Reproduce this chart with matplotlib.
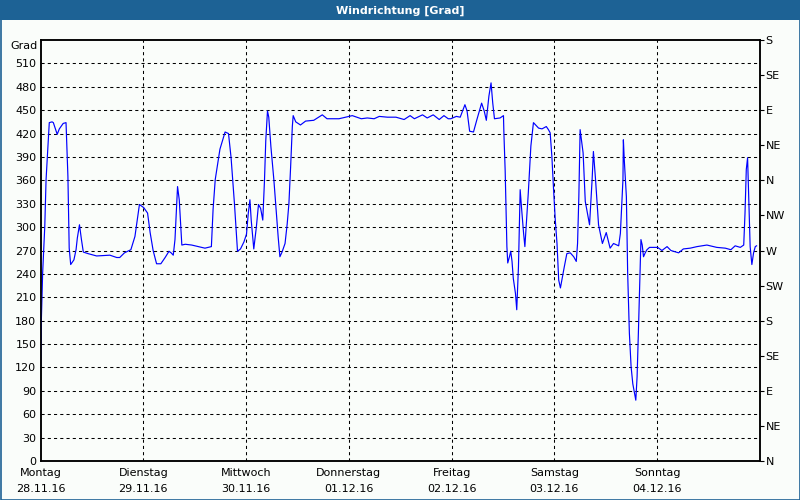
import matplotlib
matplotlib.use("Agg")
import matplotlib.pyplot as plt
from matplotlib.patches import Rectangle

# hours since Monday 28.11.16 00:00 and wind direction in degrees
hours = [
    0, 0.2, 0.5, 1.0, 1.3, 1.6, 2.05, 2.7, 3.0, 3.9, 4.4, 5.3, 5.96, 6.4, 6.7,
    7.05, 7.8, 8.3, 8.6, 9.1, 9.56, 10.0, 11.1, 13.1, 16.2, 17.8, 18.5, 19.6,
    21.1, 22.05, 22.7, 23.1, 24.1, 25.0, 25.6, 26.3, 27.1, 28.1, 29.1, 30.0,
    30.5, 31.0, 31.4, 32.0, 32.4, 33.0, 33.8, 35.3, 38.4, 39.9, 40.3, 40.8,
    41.9, 43.1, 43.9, 44.5, 45.3, 46.0, 46.7, 47.5, 48.1, 48.5, 48.9, 49.2,
    49.8, 50.4, 50.9, 51.4, 51.9, 52.3, 52.6, 53.0, 53.3, 53.8, 54.5, 55.1,
    55.5, 55.9, 56.4, 57.1, 57.6, 58.0, 58.4, 58.8, 59.0, 59.6, 60.7, 61.9,
    63.8, 65.8, 66.9, 69.7, 71.2, 72.8, 74.9, 76.3, 77.9, 79.1, 81.0, 83.0,
    84.9, 86.3, 87.3, 89.2, 90.3, 91.7, 93.1, 94.2, 95.2, 95.8, 97.1, 98.0,
    99.1, 99.6, 100.2, 101.1, 101.9, 103.0, 103.6, 104.1, 104.7, 105.2, 105.6,
    106.0, 107.3, 108.1, 108.2, 108.5, 108.7, 108.9, 109.1, 109.5, 109.8,
    110.1, 110.4, 110.9, 111.2, 111.6, 112.0, 112.3, 112.8, 113.1, 113.4,
    113.9, 114.5, 115.1, 116.3, 117.1, 118.1, 118.6, 119.0, 119.4, 119.8,
    120.2, 120.6, 121.0, 121.4, 121.8, 122.3, 122.9, 123.7, 124.5, 125.1,
    125.4, 125.7, 126.0, 126.4, 126.7, 127.2, 128.2, 128.8, 129.1, 129.6,
    130.3, 131.2, 132.1, 133.0, 133.8, 135.0, 135.4, 135.7, 136.0, 136.1,
    136.3, 136.8, 137.1, 137.5, 137.9, 138.3, 138.7, 139.0, 139.3, 139.6,
    140.0, 140.2, 140.5, 140.8, 141.2, 141.6, 142.2, 144.1, 145.1, 146.3,
    147.2, 149.0, 150.1, 151.7, 153.3, 155.6, 157.9, 159.9, 161.2, 162.2,
    163.4, 164.2, 164.5, 164.8, 165.1, 165.4, 165.7, 166.1, 166.5, 166.9, 167.2,
]
direction = [
    122, 181, 241, 301, 361, 391, 434, 435, 434, 419, 426, 433, 434, 365, 273,
    252, 258, 271, 286, 303, 284, 268, 266, 263, 264, 261, 261, 267,
    271, 288, 314, 329, 325, 318, 293, 270, 253, 253, 261, 269,
    267, 264, 284, 352, 335, 277, 278, 277, 273, 275, 323, 361,
    400, 422, 420, 389, 329, 269, 272, 281, 291, 317, 335, 309,
    272, 300, 329, 324, 309, 360, 411, 449, 441, 403, 360, 317,
    287, 262, 268, 279, 304, 330, 377, 429, 443, 435, 431, 436,
    437, 444, 439, 439, 441, 443, 439, 440, 439, 442, 441, 441,
    438, 443, 439, 444, 440, 444, 438, 443, 439, 439, 442, 441,
    457, 449, 423, 422, 438, 459, 449, 437, 468, 485, 459,
    439, 440, 443, 421, 372, 322, 275, 254, 262, 269,
    256, 234, 215, 194, 249, 348, 326, 292, 275, 301,
    344, 404, 434, 427, 426, 429, 425, 421, 391, 348,
    309, 279, 232, 222, 234, 249, 266, 267, 262, 256,
    279, 339, 425, 408, 395, 333, 303, 361, 397, 361,
    303, 279, 293, 273, 279, 276, 292, 327, 361, 412,
    387, 339, 241, 164, 121, 99, 87, 78, 108, 164,
    245, 284, 277, 262, 267, 271, 274, 274, 270, 275,
    270, 267, 272, 273, 275, 277, 274, 273, 271, 276,
    274, 277, 318, 374, 389, 331, 275, 252, 267, 275, 276,
]

day_names = ["Montag", "Dienstag", "Mittwoch", "Donnerstag", "Freitag", "Samstag", "Sonntag"]
dates = ["28.11.16", "29.11.16", "30.11.16", "01.12.16", "02.12.16", "03.12.16", "04.12.16"]
left_ticks = list(range(0, 511, 30))
compass = ["N", "NE", "E", "SE", "S", "SW", "W", "NW", "N", "NE", "E", "SE", "S"]

bar_color = "#1d6295"
plt.rcParams["font.family"] = "DejaVu Sans"
plt.rcParams["font.size"] = 8

fig = plt.figure(figsize=(8, 5), dpi=100, facecolor="#fafdfa")
W, H = 800, 500

# title bar and frame
fig.patches.append(Rectangle((0, 1 - 20 / H), 1, 20 / H, transform=fig.transFigure,
                             facecolor=bar_color, edgecolor="none", zorder=0))
fig.patches.append(Rectangle((0.5 / W, 0.5 / H), 1 - 1 / W, 1 - 1 / H, transform=fig.transFigure,
                             facecolor="none", edgecolor=bar_color, lw=1.2, zorder=5))
fig.text(0.5, 1 - 10.5 / H, "Windrichtung [Grad]", color="white", fontweight="bold",
         ha="center", va="center", fontsize=8)

ax = fig.add_axes([40.5 / W, 39 / H, (760 - 40.5) / W, (461 - 40) / H])
ax.set_facecolor("#fafdfa")
ax.plot(hours, direction, color="#0000ff", lw=0.85, zorder=3)
ax.set_xlim(0, 168)
ax.set_ylim(0, 540)

grid_kw = dict(color="black", lw=0.75, linestyle=(0, (3, 3)), zorder=1)
for v in left_ticks[1:]:
    ax.axhline(v, **grid_kw)
for d in range(1, 7):
    ax.axvline(d * 24, **grid_kw)

ax.set_yticks(left_ticks)
ax.set_yticklabels([str(v) for v in left_ticks])
ax.tick_params(axis="y", length=0, pad=3)
ax.set_xticks([d * 24 for d in range(7)])
ax.set_xticklabels([f"{n}\n{d}" for n, d in zip(day_names, dates)], linespacing=1.7)
ax.tick_params(axis="x", length=0, pad=5)
for s in ax.spines.values():
    s.set_linewidth(1.1)

fig.text(24 / W, 1 - 46 / H, "Grad", ha="center", va="center", fontsize=8)

ax2 = ax.twinx()
ax2.set_ylim(0, 540)
ax2.set_yticks(range(0, 541, 45))
ax2.set_yticklabels(compass)
ax2.tick_params(axis="y", direction="out", length=3, width=0.8, pad=1)
for s in ax2.spines.values():
    s.set_linewidth(1.1)

fig.savefig("out.png", dpi=100, facecolor=fig.get_facecolor())
